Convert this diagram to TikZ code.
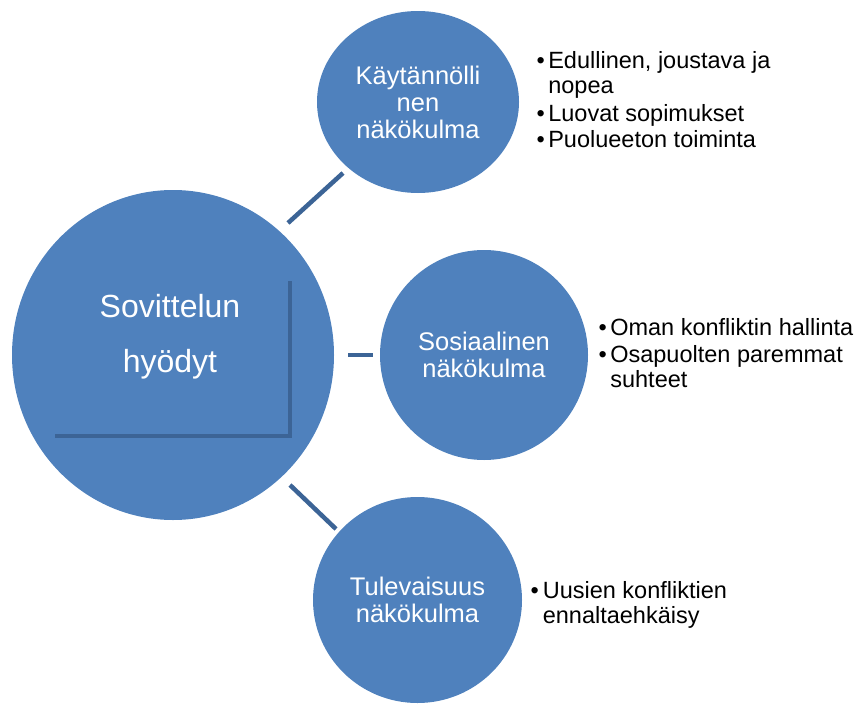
\documentclass[tikz,border=0pt]{standalone}
\usepackage{fontspec}
\setmainfont{Liberation Sans}
\usetikzlibrary{shapes.geometric}
\definecolor{bubblec}{RGB}{79,129,189}
\definecolor{linkc}{RGB}{60,100,150}
\begin{document}
\begin{tikzpicture}[x=1pt,y=-1pt,
  bubble/.style={ellipse, fill=bubblec, draw=none, inner sep=0pt, text=white,
    align=center, font=\fontsize{25.5}{27}\selectfont},
  maintext/.style={inner sep=0pt, text=white, align=center,
    font=\fontsize{32}{55}\selectfont},
  link/.style={draw=linkc, line width=4.5pt},
  lshape/.style={draw=linkc, line width=4.5pt},
  list/.style={anchor=base west, inner sep=0pt,
    font=\fontsize{23.5}{25.5}\selectfont}]
\useasboundingbox (0,0) rectangle (859,704);

% bubbles
\node[bubble, minimum width=322pt, minimum height=330pt] (main) at (173,355) {};
\node[bubble, minimum width=202pt, minimum height=182pt] (prac) at (418,102) {Käytännölli\\nen\\näkökulma};
\node[bubble, minimum width=208pt, minimum height=210pt] (soc) at (484,355) {Sosiaalinen\\näkökulma};
\node[bubble, minimum width=209pt, minimum height=206pt] (fut) at (417.5,600) {Tulevaisuus\\näkökulma};

% main text and its frame
\node[maintext] (mtext) at (170,336.5) {Sovittelun\\hyödyt};
\coordinate (fa) at (290,281);
\coordinate (fb) at (55,436);
\draw[lshape] (fa) |- (fb);

% connectors
\coordinate (c1a) at (288,223); \coordinate (c1b) at (343,173);
\coordinate (c2a) at (348,355); \coordinate (c2b) at (373,355);
\coordinate (c3a) at (290,485); \coordinate (c3b) at (336,529);
\draw[link] (c1a) -- (c1b);
\draw[link] (c2a) -- (c2b);
\draw[link] (c3a) -- (c3b);

% bullet lists
\node[list] (l1) at (536.4,68) {\begin{tabular}[t]{@{}l@{\hspace{3.5pt}}l@{}}
•&Edullinen, joustava ja\\
&nopea\\[2.5pt]
•&Luovat sopimukset\\
•&Puolueeton toiminta
\end{tabular}};
\node[list] (l2) at (598.4,335) {\begin{tabular}[t]{@{}l@{\hspace{3.5pt}}l@{}}
•&Oman konfliktin hallinta\\[1.5pt]
•&Osapuolten paremmat\\
&suhteet
\end{tabular}};
\node[list] (l3) at (530.4,598) {\begin{tabular}[t]{@{}l@{\hspace{4pt}}l@{}}
•&Uusien konfliktien\\
&ennaltaehkäisy
\end{tabular}};
\end{tikzpicture}
\end{document}
